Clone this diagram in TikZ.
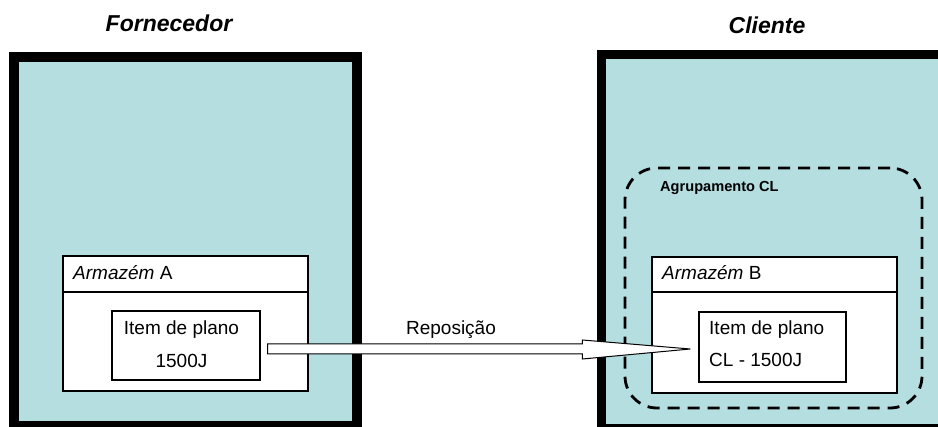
\documentclass[tikz,border=0pt]{standalone}
\usepackage{fontspec}
\setmainfont{Liberation Sans}
\usetikzlibrary{calc}
\definecolor{teal1}{RGB}{180,222,224}
\tikzset{
  site/.style={draw=black, fill=teal1, line width=9.5pt},
  whbox/.style={draw=black, fill=white, line width=1.2pt},
  itembox/.style={draw=black, fill=white, line width=1.2pt},
  grpbox/.style={draw=black, line width=2.8pt, dash pattern=on 12pt off 8pt, rounded corners=32pt},
  txt/.style={inner sep=0pt, font=\fontsize{19}{22}\selectfont},
  title/.style={inner sep=0pt, font=\fontsize{23}{27}\selectfont\bfseries\itshape},
  arrowbox/.style={draw=black, fill=white, line width=1pt, line join=miter},
}
\begin{document}
\begin{tikzpicture}[x=1pt,y=-1pt]
\useasboundingbox (0,0) rectangle (938,427);
\clip (0,0) rectangle (938,427);
% sites
\path[site] (14,57) rectangle (357,425.5);
\node[inner sep=0pt, minimum width=343pt, minimum height=368.5pt] (forn) at (185.5,241.25) {};
\path[site] (601.5,54.5) rectangle (950,428.5);
\node[inner sep=0pt, minimum width=348.5pt, minimum height=374pt] (cli) at (775.75,241.5) {};
\node[title, anchor=base] (tforn) at (169,31.7) {Fornecedor};
\node[title, anchor=base] (tcli) at (767,33.3) {Cliente};
% group
\node[grpbox, minimum width=297pt, minimum height=240pt, inner sep=0pt] (grp) at (773.5,288) {};
\node[inner sep=0pt, anchor=base west, font=\fontsize{14.6}{16}\selectfont\bfseries] (lgrp) at (660,191.7) {Agrupamento CL};
% warehouse A
\node[whbox, minimum width=245pt, minimum height=135pt, inner sep=0pt] (wa) at (185.5,323.5) {};
\draw[line width=1.2pt] (wa.west |- 0,292) -- (wa.east |- 0,292);
\node[txt, anchor=base west] (lwa) at (73,279.3) {\textit{Armazém} A};
\node[itembox, minimum width=148pt, minimum height=69pt, inner sep=0pt] (ia) at (186,345.5) {};
\node[txt, anchor=base] (ia1) at (181.5,334.3) {Item de plano};
\node[txt, anchor=base] (ia2) at (181.5,367.7) {1500J};
% warehouse B
\node[whbox, minimum width=245pt, minimum height=136pt, inner sep=0pt] (wb) at (774.5,325) {};
\draw[line width=1.2pt] (wb.west |- 0,292) -- (wb.east |- 0,292);
\node[txt, anchor=base west] (lwb) at (662,279.3) {\textit{Armazém} B};
\node[itembox, minimum width=147pt, minimum height=70pt, inner sep=0pt] (ib) at (772.5,347) {};
\node[txt, anchor=base west] (ib1) at (709,334.3) {Item de plano};
\node[txt, anchor=base west] (ib2) at (709,366.7) {CL - 1500J};
% arrow
\coordinate (as) at ($(ia.east)+(7,3.5)$);
\coordinate (ae) at ($(ib.west)+(-8,2)$);
\draw[arrowbox] ($(as)+(0,-5)$) -- ($(ae)+(-108,-5)$) -- ($(ae)+(-108,-9)$) -- (ae)
  -- ($(ae)+(-108,10)$) -- ($(ae)+(-108,5)$) -- ($(as)+(0,5)$) -- cycle;
\node[txt, anchor=base] (lrep) at (451,334.3) {Reposição};
\end{tikzpicture}
\end{document}
